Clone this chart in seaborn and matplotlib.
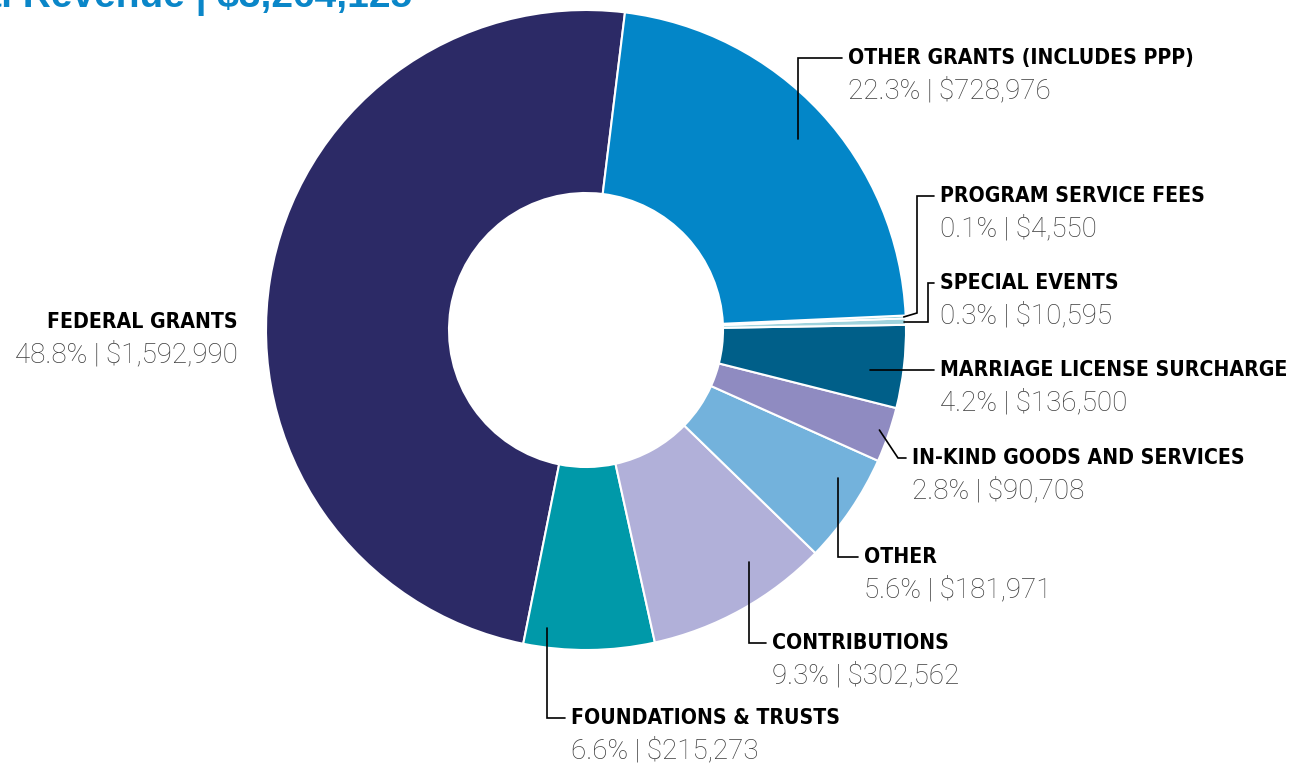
import matplotlib
matplotlib.use("Agg")
import matplotlib.pyplot as plt
import numpy as np
import seaborn as sns

# data (counter-clockwise from the top)
categories = [
    "FEDERAL GRANTS",
    "FOUNDATIONS & TRUSTS",
    "CONTRIBUTIONS",
    "OTHER",
    "IN-KIND GOODS AND SERVICES",
    "MARRIAGE LICENSE SURCHARGE",
    "SPECIAL EVENTS",
    "PROGRAM SERVICE FEES",
    "OTHER GRANTS (INCLUDES PPP)",
]
amounts = [1592990, 215273, 302562, 181971, 90708, 136500, 10595, 4550, 728976]
colors = ["#2C2A66", "#0099A9", "#B1B0D9", "#73B2DC", "#8F8BC1",
          "#005F89", "#9FD3DD", "#5DB6C8", "#0386C8"]
title_text = "Total Revenue | $3,264,125"

W, H = 1299, 764
CX, CY, R_OUT, R_IN = 586, 330, 320, 137

sns.set_theme(style="white")
BOLD = ["DejaVu Sans"]
LIGHT = ["Roboto", "DejaVu Sans"]


def px(x, y):
    return x, H - y


# label layout: text x, text y (pixels from top), align, leader
# leader: (angle fraction in wedge, radius, optional elbow point)
layout = {
    "FEDERAL GRANTS": dict(x=238, y=322, ha="right", lead=None),
    "FOUNDATIONS & TRUSTS": dict(x=571, y=718, ha="left", lead=(0.16, 301, None)),
    "CONTRIBUTIONS": dict(x=772, y=643, ha="left", lead=(0.68, 284, None)),
    "OTHER": dict(x=864, y=557, ha="left", lead=(0.69, 292, None)),
    "IN-KIND GOODS AND SERVICES": dict(x=912, y=458, ha="left", lead=(0.53, 310, (898, 458))),
    "MARRIAGE LICENSE SURCHARGE": dict(x=940, y=370, ha="left", lead=(0.4, 287, None)),
    "SPECIAL EVENTS": dict(x=940, y=283, ha="left", lead=(0.5, 318, (928, None))),
    "PROGRAM SERVICE FEES": dict(x=940, y=196, ha="left", lead=(0.5, 318, (917, 313))),
    "OTHER GRANTS (INCLUDES PPP)": dict(x=848, y=58, ha="left", lead=(0.49, 285, None)),
}

fig = plt.figure(figsize=(W / 100, H / 100), dpi=100)
ax = fig.add_axes([0, 0, 1, 1])

total = sum(amounts)
wedges, _ = ax.pie(
    amounts,
    colors=colors,
    startangle=83,
    counterclock=True,
    center=px(CX, CY),
    radius=R_OUT,
    wedgeprops=dict(width=R_OUT - R_IN, edgecolor="white", linewidth=1.5),
)
ax.set_xlim(0, W)
ax.set_ylim(0, H)
ax.set_aspect("equal")
ax.axis("off")

for wedge, name, amt in zip(wedges, categories, amounts):
    lay = layout[name]
    pct = amt / total * 100
    ax.text(*px(lay["x"], lay["y"]), name, ha=lay["ha"], va="center",
            fontsize=15.2, fontweight="bold", fontstretch="condensed", family=BOLD, color="black")
    ax.text(*px(lay["x"], lay["y"] + 33), f"{pct:.1f}% | ${amt:,}", ha=lay["ha"],
            va="center", fontsize=20, fontweight="light", family=LIGHT, color="#3C3C3C")
    if lay["lead"] is None:
        continue
    frac, rr, elbow = lay["lead"]
    ang = np.deg2rad(wedge.theta1 + frac * (wedge.theta2 - wedge.theta1))
    ax0 = CX + rr * np.cos(ang)
    ay0 = CY - rr * np.sin(ang)
    pts = [(ax0, ay0)]
    if elbow is None:
        ex = ax0
    else:
        ex = elbow[0]
        ey = elbow[1] if elbow[1] is not None else ay0
        pts.append((ex, ey))
    pts.append((ex, lay["y"]))
    pts.append((lay["x"] - 6, lay["y"]))
    xs = [p[0] for p in pts]
    ys = [H - p[1] for p in pts]
    ax.plot(xs, ys, color="black", lw=1.2, solid_joinstyle="miter")

ax.text(*px(412, 7), title_text, ha="right", va="baseline", fontsize=28,
        fontweight="bold", family=["Liberation Sans", "DejaVu Sans"], color="#0A86C8")

fig.savefig("out.png", dpi=100)
